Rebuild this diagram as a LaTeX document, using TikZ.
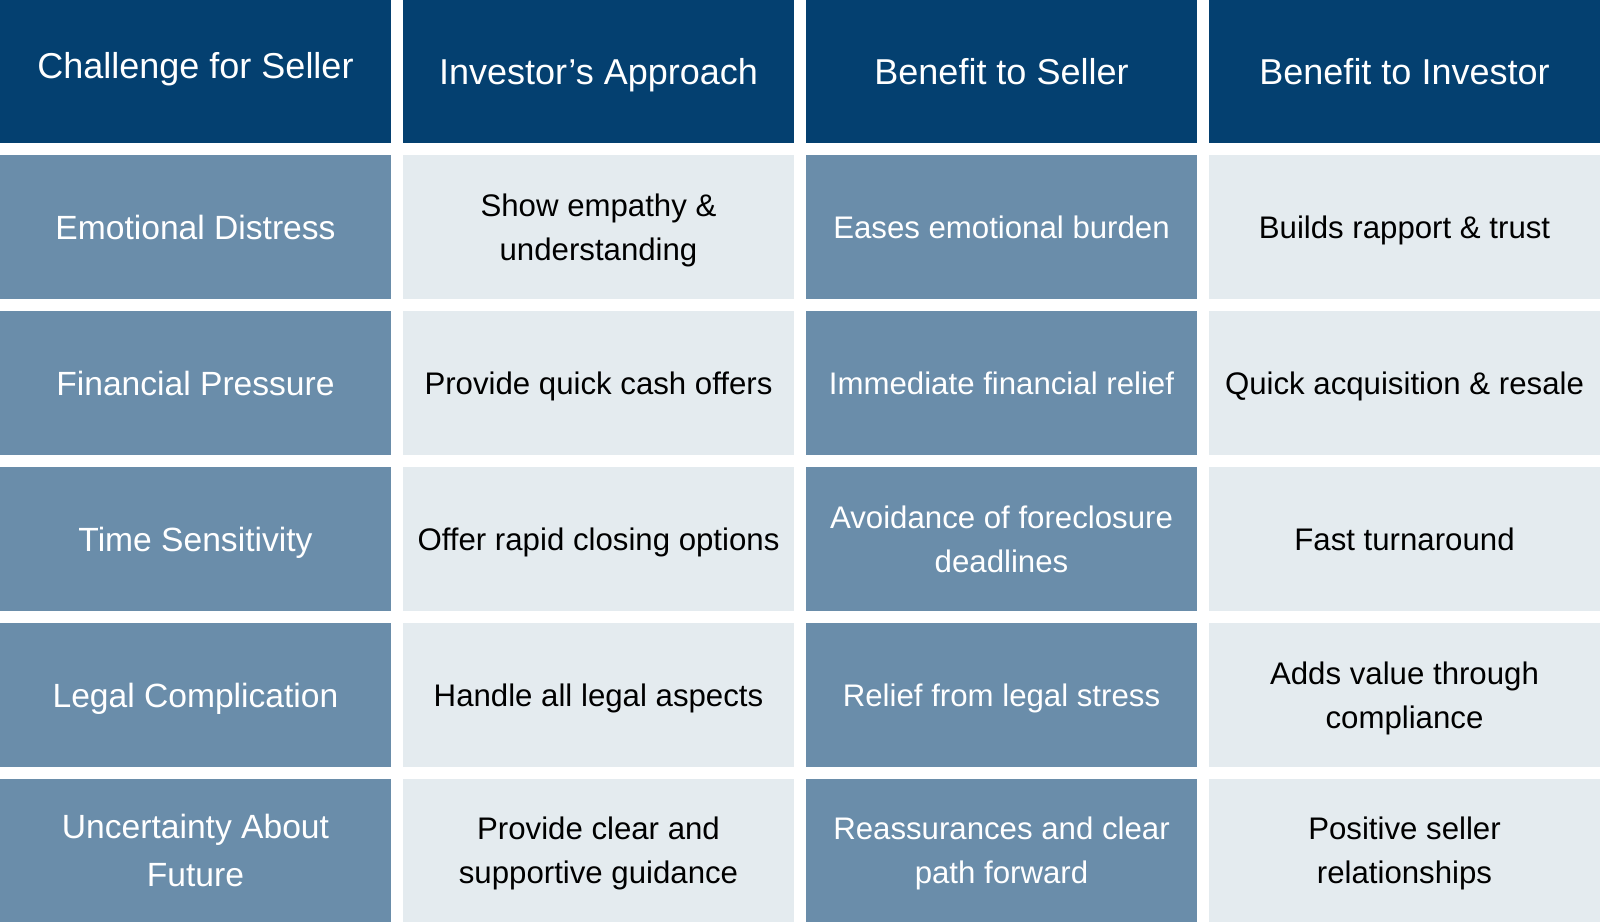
\documentclass[tikz,border=0pt]{standalone}
\usepackage{fontspec}
\setmainfont{Liberation Sans}
\usepackage{tikz}
\definecolor{headblue}{RGB}{4,64,112}
\definecolor{midblue}{RGB}{106,141,170}
\definecolor{paleblue}{RGB}{228,235,239}
\tikzset{
  cell/.style={minimum width=195.5pt, minimum height=72pt, inner sep=0pt, align=center,
    text height=15.2pt, text depth=4pt, font=\fontsize{15.6}{22}\selectfont},
  head/.style={cell, fill=headblue, text=white, minimum height=71.5pt,
    text height=16.9pt, font=\fontsize{18}{22}\selectfont},
  first/.style={cell, fill=midblue, text=white, text height=16pt, font=\fontsize{16.8}{24}\selectfont},
  dark/.style={cell, fill=midblue, text=white},
  pale/.style={cell, fill=paleblue, text=black},
  twoline/.style={text height=#1}
}
\begin{document}
\begin{tikzpicture}[x=0.5pt,y=-0.5pt]
			\useasboundingbox[fill=white] (0,0) rectangle (1600,922);
			% header
			\node[head] (h1) at (195.5,71.5){};
			\node[text=white, inner sep=0pt, text height=16.9pt, text depth=4pt, font=\fontsize{18}{22}\selectfont] (h1t) at (195.5,65.5){Challenge for Seller};
			\node[head] (h2) at (598.5,71.5){Investor’s Approach};
			\node[head] (h3) at (1001.5,71.5){Benefit to Seller};
			\node[head] (h4) at (1404.5,71.5){Benefit to Investor};
			% emotional
			\node[first] (a1) at (195.5,227){Emotional Distress};
			\node[pale, twoline=37.2pt] (a2) at (598.5,227){Show empathy \&\\understanding};
			\node[dark] (a3) at (1001.5,227){Eases emotional burden};
			\node[pale] (a4) at (1404.5,227){Builds rapport \& trust};
			% financial
			\node[first] (b1) at (195.5,383){Financial Pressure};
			\node[pale] (b2) at (598.5,383){Provide quick cash offers};
			\node[dark] (b3) at (1001.5,383){Immediate financial relief};
			\node[pale] (b4) at (1404.5,383){Quick acquisition \& resale};
			% time
			\node[first] (c1) at (195.5,539){Time Sensitivity};
			\node[pale] (c2) at (598.5,539){Offer rapid closing options};
			\node[dark, twoline=37.2pt] (c3) at (1001.5,539){Avoidance of foreclosure\\deadlines};
			\node[pale] (c4) at (1404.5,539){Fast turnaround};
			% legal
			\node[first] (d1) at (195.5,695){Legal Complication};
			\node[pale] (d2) at (598.5,695){Handle all legal aspects};
			\node[dark] (d3) at (1001.5,695){Relief from legal stress};
			\node[pale, twoline=37.2pt] (d4) at (1404.5,695){Adds value through\\compliance};
			% future
			\node[first, minimum height=71.5pt, twoline=40pt] (e1) at (195.5,850.5){Uncertainty About\\Future};
			\node[pale, minimum height=71.5pt, twoline=37.2pt] (e2) at (598.5,850.5){Provide clear and\\supportive guidance};
			\node[dark, minimum height=71.5pt, twoline=37.2pt] (e3) at (1001.5,850.5){Reassurances and clear\\path forward};
			\node[pale, minimum height=71.5pt, twoline=37.2pt] (e4) at (1404.5,850.5){Positive seller\\relationships};
		\end{tikzpicture}
\end{document}
